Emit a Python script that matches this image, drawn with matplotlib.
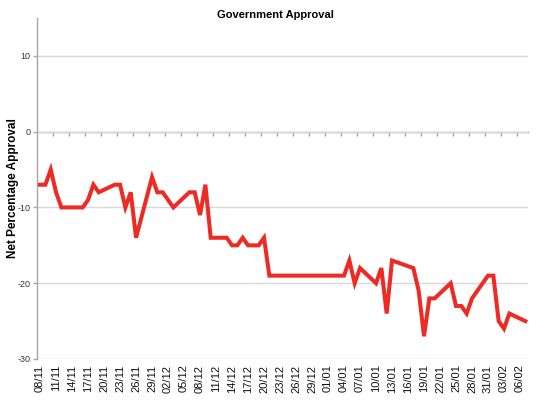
import matplotlib
matplotlib.use("Agg")
import matplotlib.pyplot as plt
import numpy as np
import datetime as dt

# Data: day offsets from 08/11 and net approval values (vertices)
start_date = dt.date(2010, 11, 8)
n_days = 92
day_offsets = [0, 1, 2, 3, 4, 8, 9, 10, 11, 14, 15, 16, 17, 18, 21, 22, 23, 25, 28, 29,
               30, 31, 32, 35, 36, 37, 38, 39, 41, 42, 43, 57, 58, 59, 60, 63, 64, 65,
               66, 70, 71, 72, 73, 74, 77, 78, 79, 80, 81, 84, 85, 86, 87, 88, 91]
approval = [-7, -7, -5, -8, -10, -10, -9, -7, -8, -7, -7, -10, -8, -14, -6, -8, -8, -10, -8, -8,
            -11, -7, -14, -14, -15, -15, -14, -15, -15, -14, -19, -19, -17, -20, -18, -20, -18, -24,
            -17, -18, -21, -27, -22, -22, -20, -23, -23, -24, -22, -19, -19, -25, -26, -24, -25]

all_dates = [start_date + dt.timedelta(days=i) for i in range(n_days)]
label_idx = list(range(0, n_days, 3))
tick_labels = [all_dates[i].strftime("%d/%m") for i in label_idx]

plt.rcParams['font.family'] = ['Liberation Sans', 'DejaVu Sans']
plt.rcParams['axes.unicode_minus'] = False

fig = plt.figure(figsize=(5.5, 4.0), dpi=100)
ax = fig.add_axes([0.068, 0.1025, 0.892, 0.8525])

grid_c = '#d9d9d9'
axis_c = '#a6a6a6'

ax.set_xlim(-0.5, n_days - 0.5)
ax.set_ylim(-30, 15)
ax.set_yticks([-30, -20, -10, 0, 10])
ax.yaxis.grid(True, color=grid_c, linewidth=1.0)
ax.set_axisbelow(True)

for s in ['top', 'right', 'bottom']:
    ax.spines[s].set_visible(False)
ax.spines['left'].set_color(axis_c)
ax.spines['left'].set_linewidth(1.0)

ax.tick_params(axis='y', labelsize=6.5, length=3, color=axis_c, width=1, pad=2, labelcolor='#333333')
ax.set_xticks(label_idx)
ax.set_xticklabels(tick_labels, rotation=90, fontsize=8, color='#111111')
ax.tick_params(axis='x', length=0, pad=4)

# zero axis line with tick marks at category boundaries
frac0 = (0 - (-30)) / 45.0
sec = ax.secondary_xaxis(frac0)
for s in sec.spines:
    sec.spines[s].set_visible(s == 'bottom')
sec.spines['bottom'].set_color(axis_c)
sec.spines['bottom'].set_linewidth(1.0)
sec.xaxis.set_ticks_position('bottom')
sec.set_xticks([i - 0.5 for i in range(3, n_days, 3)])
sec.tick_params(axis='x', which='both', direction='out', length=3, color=axis_c, width=1,
                bottom=True, top=False, labelbottom=False, labeltop=False)

ax.plot(day_offsets, approval, color='#ee2a24', linewidth=2.9, solid_joinstyle='miter', zorder=5)

ax.set_ylabel('Net Percentage Approval', fontsize=8.5, fontweight='bold')
ax.yaxis.set_label_coords(-0.038, 0.5)
fig.text(0.5, 0.963, 'Government Approval', ha='center', va='center', fontsize=8, fontweight='bold')

fig.savefig('out.png', dpi=100)
